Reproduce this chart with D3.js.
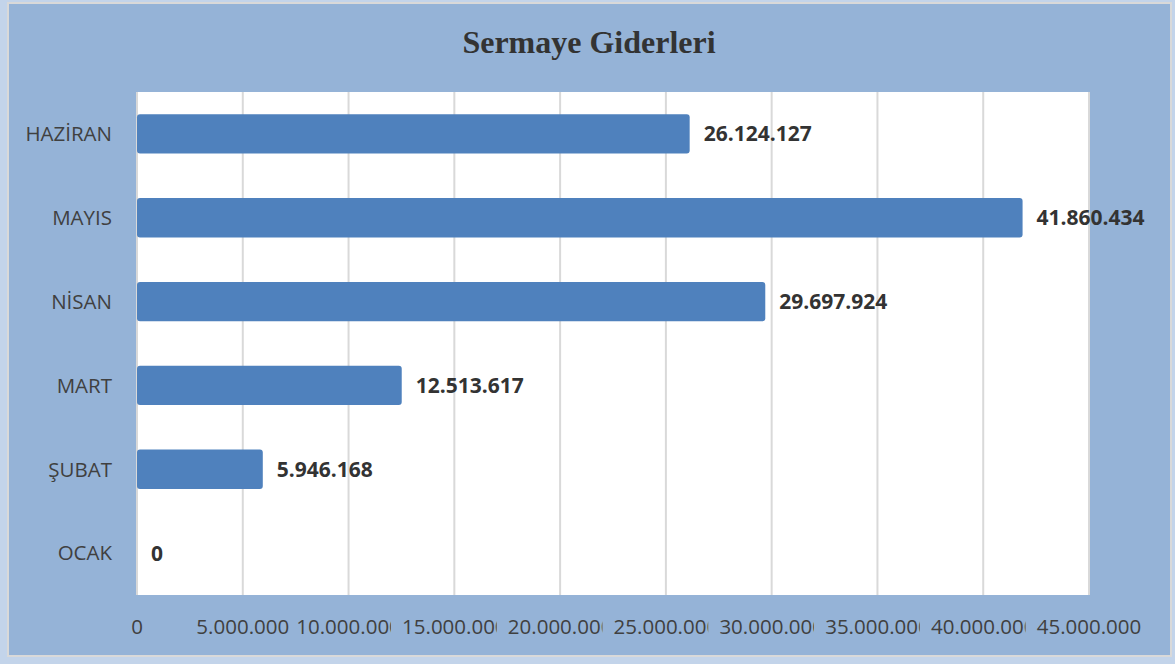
<!DOCTYPE html>
<html>
<head>
<meta charset="utf-8">
<script src="https://cdn.jsdelivr.net/npm/d3@7"></script>
<style>
  body { margin: 0; background: #c3d4ea; }
  svg { display: block; }
</style>
</head>
<body>
<div id="chart"></div>
<script>
const width = 1175;
const height = 664;

// data
const months = ["OCAK", "ŞUBAT", "MART", "NİSAN", "MAYIS", "HAZİRAN"];
const values = [0, 5946168, 12513617, 29697924, 41860434, 26124127];
const tickValues = [0, 5000000, 10000000, 15000000, 20000000, 25000000, 30000000, 35000000, 40000000, 45000000];
const title = "Sermaye Giderleri";

const margin = {top: 92, right: 86, bottom: 69, left: 137};

const svg = d3.select("#chart").append("svg")
    .attr("width", width)
    .attr("height", height);

// chart area
svg.append("rect")
    .attr("x", 8)
    .attr("y", 3)
    .attr("width", 1163)
    .attr("height", 653)
    .attr("fill", "#95b3d7")
    .attr("stroke", "#d9d9d9")
    .attr("stroke-width", 2);

// title
svg.append("text")
    .attr("x", 589)
    .attr("y", 53)
    .attr("text-anchor", "middle")
    .style("font-family", "'Liberation Serif', 'Times New Roman', serif")
    .style("font-weight", "bold")
    .style("font-size", "32px")
    .attr("fill", "#333333")
    .text(title);

const x = d3.scaleLinear()
    .domain([0, 45000000])
    .range([margin.left, width - margin.right]);

// Excel draws the top category first
const y = d3.scaleBand()
    .domain(months.slice().reverse())
    .range([margin.top, height - margin.bottom])
    .paddingInner(0.53)
    .paddingOuter(0.265);

// plot area
svg.append("rect")
    .attr("x", margin.left - 1)
    .attr("y", margin.top)
    .attr("width", width - margin.right - margin.left + 1)
    .attr("height", height - margin.bottom - margin.top)
    .attr("fill", "#ffffff");

// gridlines
svg.append("g")
    .selectAll("line")
    .data(tickValues)
    .join("line")
    .attr("x1", d => x(d))
    .attr("x2", d => x(d))
    .attr("y1", margin.top)
    .attr("y2", height - margin.bottom)
    .attr("stroke", "#d9d9d9")
    .attr("stroke-width", 2);

// bars
svg.append("g")
    .selectAll("rect")
    .data(months.map((m, i) => ({month: m, value: values[i]})))
    .join("rect")
    .attr("x", x(0))
    .attr("y", d => y(d.month))
    .attr("width", d => x(d.value) - x(0))
    .attr("height", y.bandwidth())
    .attr("rx", d => d.value > 0 ? 3 : 0)
    .attr("fill", "#4f81bd");

// data labels
const fmt = v => d3.format(",")(v).replace(/,/g, ".");

svg.append("g")
    .selectAll("text")
    .data(months.map((m, i) => ({month: m, value: values[i]})))
    .join("text")
    .attr("x", d => x(d.value) + 14)
    .attr("y", d => y(d.month) + y.bandwidth() / 2)
    .attr("dy", "0.36em")
    .style("font-family", "'Open Sans', sans-serif")
    .style("font-weight", "bold")
    .style("font-size", "21px")
    .attr("fill", "#333333")
    .text(d => fmt(d.value));

// category labels
svg.append("g")
    .selectAll("text")
    .data(months)
    .join("text")
    .attr("x", margin.left - 25)
    .attr("y", d => y(d) + y.bandwidth() / 2)
    .attr("dy", "0.36em")
    .attr("text-anchor", "end")
    .style("font-family", "'Open Sans', sans-serif")
    .style("font-size", "20.5px")
    .attr("fill", "#404040")
    .text(d => d);

// value axis labels (Excel cuts off the long ones)
const step = x(tickValues[1]) - x(tickValues[0]);
const defs = svg.append("defs");
const tickG = svg.append("g");

tickValues.forEach((t, i) => {
    const label = tickG.append("text")
        .attr("x", x(t))
        .attr("y", 627)
        .attr("dy", "0.36em")
        .attr("text-anchor", "middle")
        .style("font-family", "'Open Sans', sans-serif")
        .style("font-size", "20.5px")
        .attr("fill", "#404040")
        .text(fmt(t));
    const w = label.node().getComputedTextLength();
    if (i < tickValues.length - 1 && w > step * 0.95) {
        defs.append("clipPath")
            .attr("id", "clip" + i)
            .append("rect")
            .attr("x", x(t) - w / 2 - 2)
            .attr("y", 600)
            .attr("width", w / 2 + 2 + step * 0.4)
            .attr("height", 50);
        label.attr("clip-path", "url(#clip" + i + ")");
    }
});
</script>
</body>
</html>
